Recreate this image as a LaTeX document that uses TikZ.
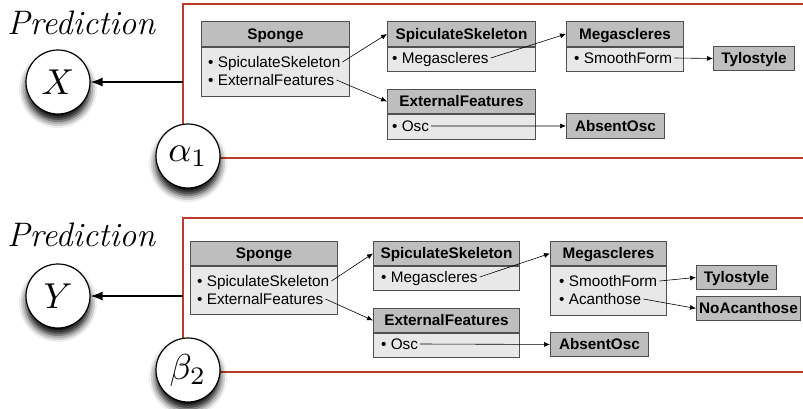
\documentclass[tikz,border=0pt]{standalone}
\usepackage{graphicx}
\usepackage{fontspec}
\newfontfamily\arialf{Liberation Sans}
\usetikzlibrary{arrows.meta,shadows.blur}
\definecolor{framec}{HTML}{B8402A}
\definecolor{hdrc}{HTML}{BEBEBE}
\definecolor{bdyc}{HTML}{E8E8E8}
\definecolor{boxc}{HTML}{505050}
\newcommand{\bigmath}[1]{\scalebox{3.6}{$#1$}}
\begin{document}
\begin{tikzpicture}[x=1pt,y=-1pt,
  hdr/.style={draw=boxc, fill=hdrc, line width=0.9pt, anchor=north west, inner sep=0pt,
    minimum height=25pt, text height=11pt, text depth=0pt,
    font=\arialf\bfseries\fontsize{15.3}{18}\selectfont},
  bdy/.style={draw=boxc, fill=bdyc, line width=0.9pt, anchor=north west, inner sep=0pt},
  item/.style={anchor=west, inner sep=2pt, text height=11pt, text depth=0pt,
    font=\arialf\fontsize{15.3}{18}\selectfont},
  link/.style={-{Latex[length=6pt,width=5pt]}, line width=0.6pt, black},
  mainarr/.style={-{Latex[length=12pt,width=9pt]}, line width=1.3pt},
  var/.style={circle, draw, line width=1.2pt, fill=white, minimum size=64pt, inner sep=0pt,
    blur shadow={shadow xshift=0pt, shadow yshift=-7pt, shadow blur radius=7pt, shadow opacity=100}},
  fr/.style={draw=framec, line width=1.8pt},
  pred/.style={anchor=base west, inner sep=0pt, font=\itshape\fontsize{34}{34}\selectfont}]

\useasboundingbox (0,0) rectangle (803,408);

% ---------- top panel ----------
\node[pred] (p1) at (7,34) {Prediction};
\draw[fr] (803,4) -- (183,4) -- (183,158) -- (803,158);
\coordinate (f1) at (183,82);
\node[var] (X) at (58,82) {\bigmath{X}};
\node[var] (a1) at (188,156) {\bigmath{\alpha_1}};
\draw[mainarr] (f1) -- (X);

\node[hdr, minimum width=148pt] (sp1h) at (201,21) {Sponge};
\node[bdy, minimum width=148pt, minimum height=49pt] (sp1b) at (sp1h.south west) {};
\node[item] (sp1i1) at (206,62) {• SpiculateSkeleton};
\node[item] (sp1i2) at (206,80) {• ExternalFeatures};

\node[hdr, minimum width=148pt] (ss1h) at (387,21) {SpiculateSkeleton};
\node[bdy, minimum width=148pt, minimum height=24pt] (ss1b) at (ss1h.south west) {};
\node[item] (ss1i1) at (390,58) {• Megascleres};

\node[hdr, minimum width=117pt] (me1h) at (566,21) {Megascleres};
\node[bdy, minimum width=117pt, minimum height=24pt] (me1b) at (me1h.south west) {};
\node[item] (me1i1) at (572,58) {• SmoothForm};

\node[hdr, minimum width=81pt, minimum height=24pt] (ty1) at (713,46) {Tylostyle};

\node[hdr, minimum width=148pt, minimum height=24pt] (ex1h) at (387,89) {ExternalFeatures};
\node[bdy, minimum width=148pt, minimum height=25pt] (ex1b) at (ex1h.south west) {};
\node[item] (ex1i1) at (390,126) {• Osc};

\node[hdr, minimum width=98pt] (ao1) at (566,113) {AbsentOsc};

\draw[link] (sp1i1.east) -- (ss1h.west);
\draw[link] (sp1i2.east) -- (ex1h.west);
\draw[link] (ss1i1.east) -- (me1h.west);
\draw[link] (me1i1.east) -- (ty1.west);
\draw[link] (ex1i1.east) -- (ao1.west);

% ---------- bottom panel ----------
\node[pred] (p2) at (7,246) {Prediction};
\draw[fr] (803,218) -- (183,218) -- (183,372) -- (803,372);
\coordinate (f2) at (183,296);
\node[var] (Y) at (58,296) {\bigmath{Y}};
\node[var] (b2) at (188,370) {\bigmath{\beta_2}};
\draw[mainarr] (f2) -- (Y);

\node[hdr, minimum width=147pt, minimum height=24pt] (sp2h) at (190,241) {Sponge};
\node[bdy, minimum width=147pt, minimum height=48pt] (sp2b) at (sp2h.south west) {};
\node[item] (sp2i1) at (195,281) {• SpiculateSkeleton};
\node[item] (sp2i2) at (195,299) {• ExternalFeatures};

\node[hdr, minimum width=146pt, minimum height=24pt] (ss2h) at (373,241) {SpiculateSkeleton};
\node[bdy, minimum width=146pt, minimum height=24pt] (ss2b) at (ss2h.south west) {};
\node[item] (ss2i1) at (379,277) {• Megascleres};

\node[hdr, minimum width=116pt, minimum height=24pt] (me2h) at (550,241) {Megascleres};
\node[bdy, minimum width=116pt, minimum height=49pt] (me2b) at (me2h.south west) {};
\node[item] (me2i1) at (557,281) {• SmoothForm};
\node[item] (me2i2) at (557,299) {• Acanthose};

\node[hdr, minimum width=80pt, minimum height=24pt] (ty2) at (696,265) {Tylostyle};
\node[hdr, minimum width=104pt, minimum height=24pt] (na2) at (696,296) {NoAcanthose};

\node[hdr, minimum width=146pt, minimum height=24pt] (ex2h) at (373,308) {ExternalFeatures};
\node[bdy, minimum width=146pt, minimum height=24pt] (ex2b) at (ex2h.south west) {};
\node[item] (ex2i1) at (379,344) {• Osc};

\node[hdr, minimum width=98pt, minimum height=24pt] (ao2) at (550,332) {AbsentOsc};

\draw[link] (sp2i1.east) -- (ss2h.west);
\draw[link] (sp2i2.east) -- (ex2h.west);
\draw[link] (ss2i1.east) -- (me2h.west);
\draw[link] (me2i1.east) -- (ty2.west);
\draw[link] (me2i2.east) -- (na2.west);
\draw[link] (ex2i1.east) -- (ao2.west);
\end{tikzpicture}
\end{document}
